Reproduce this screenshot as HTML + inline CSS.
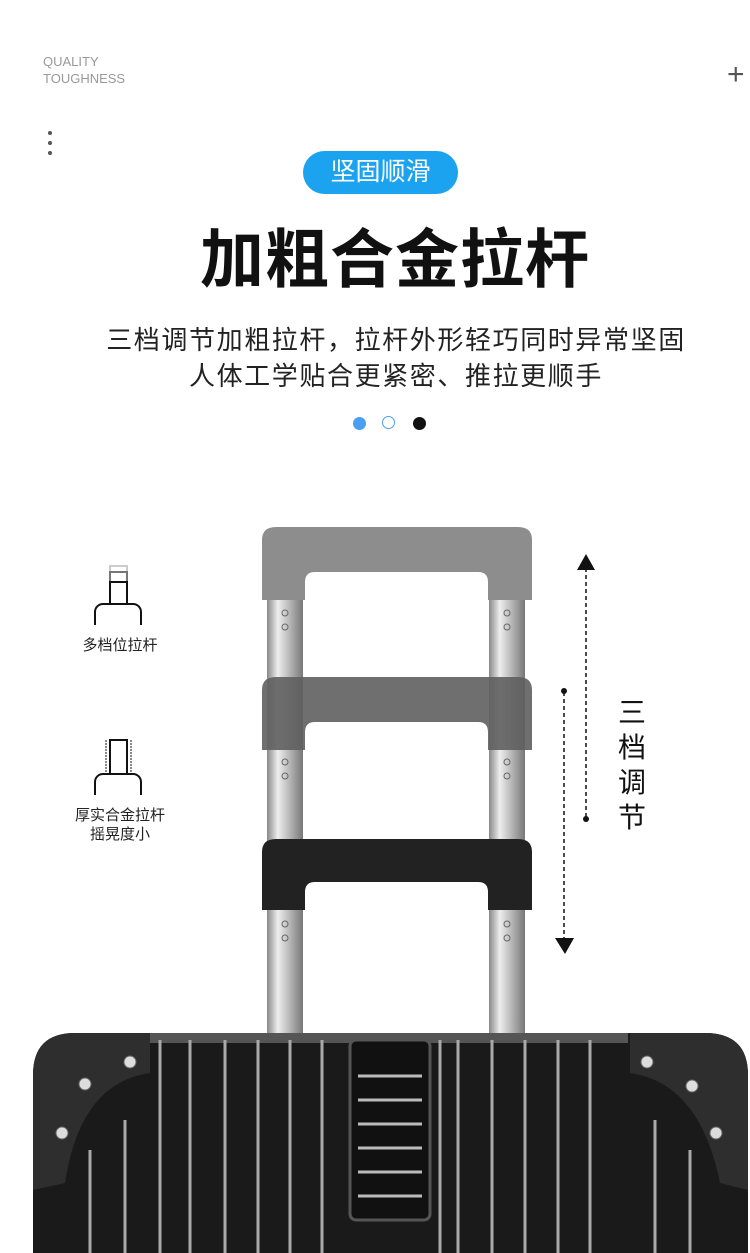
<!DOCTYPE html>
<html><head><meta charset="utf-8"><style>
body{margin:0;width:750px;height:1253px;overflow:hidden;background:#fff;font-family:"Liberation Sans","Noto Sans CJK SC",sans-serif;position:relative}
.a{position:absolute}
</style></head><body>
<div class="a" style="left:43px;top:53px;font-size:13px;color:#999;line-height:17px">QUALITY<br>TOUGHNESS</div>
<div class="a" style="left:727px;top:60px;font-size:30px;color:#555;line-height:30px;font-weight:300">+</div>
<div class="a" style="left:48px;top:131px;width:4px;height:4px;border-radius:2px;background:#555;box-shadow:0 10px 0 #555,0 20px 0 #555"></div>
<div class="a" style="left:303px;top:151px;width:155px;height:43px;border-radius:22px;background:#1ca3ef;color:#fff;font-size:25px;text-align:center;line-height:43px">坚固顺滑</div>
<div class="a" style="left:0;top:220px;width:790px;text-align:center;font-size:64px;font-weight:bold;letter-spacing:1px;color:#111;line-height:80px">加粗合金拉杆</div>
<div class="a" style="left:0;top:322px;width:792px;text-align:center;font-size:26px;letter-spacing:1.6px;color:#222;line-height:36px">三档调节加粗拉杆，拉杆外形轻巧同时异常坚固<br>人体工学贴合更紧密、推拉更顺手</div>
<div class="a" style="left:353px;top:417px;width:13px;height:13px;border-radius:50%;background:#4a9ff0"></div>
<div class="a" style="left:382px;top:416px;width:11px;height:11px;border-radius:50%;border:1.5px solid #4a9ff0"></div>
<div class="a" style="left:413px;top:417px;width:13px;height:13px;border-radius:50%;background:#111"></div>
<div class="a" style="left:50px;top:634px;width:140px;text-align:center;font-size:15px;color:#222">多档位拉杆</div>
<div class="a" style="left:50px;top:806px;width:140px;text-align:center;font-size:15px;color:#222;line-height:19px">厚实合金拉杆<br>摇晃度小</div>
<div class="a" style="left:614px;top:695px;width:36px;font-size:28px;color:#111;line-height:35px;text-align:center">三<br>档<br>调<br>节</div>
<svg class="a" style="left:0;top:0" width="750" height="1253">
<defs>
<linearGradient id="pole" x1="0" x2="1"><stop offset="0" stop-color="#888"/><stop offset=".3" stop-color="#eee"/><stop offset=".6" stop-color="#bbb"/><stop offset="1" stop-color="#777"/></linearGradient>
</defs>
<g fill="none" stroke="#111" stroke-width="2">
<rect x="110" y="566" width="17" height="6" stroke="#ccc"/>
<rect x="110" y="572" width="17" height="10" stroke="#777"/>
<rect x="110" y="582" width="17" height="22"/>
<path d="M95 625V612a8 8 0 0 1 8-8h30a8 8 0 0 1 8 8v13"/>
<rect x="110" y="740" width="17" height="34"/>
<path d="M95 795V782a8 8 0 0 1 8-8h30a8 8 0 0 1 8 8v13"/>
<path d="M106 740v34M131 740v34" stroke-width="1" stroke-dasharray="2 1"/>
</g>
<rect x="267" y="560" width="36" height="475" fill="url(#pole)"/>
<rect x="489" y="560" width="36" height="475" fill="url(#pole)"/>
<g fill="none" stroke="#666" stroke-width="1">
<circle cx="285" cy="613" r="3"/><circle cx="285" cy="627" r="3"/><circle cx="507" cy="613" r="3"/><circle cx="507" cy="627" r="3"/>
<circle cx="285" cy="762" r="3"/><circle cx="285" cy="776" r="3"/><circle cx="507" cy="762" r="3"/><circle cx="507" cy="776" r="3"/>
<circle cx="285" cy="924" r="3"/><circle cx="285" cy="938" r="3"/><circle cx="507" cy="924" r="3"/><circle cx="507" cy="938" r="3"/>
</g>
<path d="M262 600V540q0-13 14-13h242q14 0 14 13v60h-44v-18q0-10-10-10h-163q-10 0-10 10v18z" fill="#8d8d8d"/>
<path d="M262 750V690q0-13 14-13h242q14 0 14 13v60h-44v-18q0-10-10-10h-163q-10 0-10 10v18z" fill="#5f5f5f" opacity=".9"/>
<path d="M262 910V852q0-13 14-13h242q14 0 14 13v58h-44v-18q0-10-10-10h-163q-10 0-10 10v18z" fill="#222"/>
<g stroke="#111" stroke-width="1.5" stroke-dasharray="4 3">
<line x1="586" y1="568" x2="586" y2="818"/><line x1="564" y1="692" x2="564" y2="940"/></g>
<path d="M577 570L586 554L595 570Z" fill="#111"/><circle cx="586" cy="819" r="3" fill="#111"/>
<path d="M555 938L565 954L574 938Z" fill="#111"/><circle cx="564" cy="691" r="3" fill="#111"/>
<path d="M33 1253V1075q0-42 42-42h630q43 0 43 42v178z" fill="#1a1a1a"/>
<path d="M148 1033h480v10h-480z" fill="#555"/>
<g stroke="#aaa" stroke-width="3">
<line x1="160" y1="1040" x2="160" y2="1253"/><line x1="190" y1="1040" x2="190" y2="1253"/><line x1="225" y1="1040" x2="225" y2="1253"/><line x1="258" y1="1040" x2="258" y2="1253"/><line x1="290" y1="1040" x2="290" y2="1253"/><line x1="322" y1="1040" x2="322" y2="1253"/>
<line x1="440" y1="1040" x2="440" y2="1253"/><line x1="458" y1="1040" x2="458" y2="1253"/><line x1="492" y1="1040" x2="492" y2="1253"/><line x1="525" y1="1040" x2="525" y2="1253"/><line x1="558" y1="1040" x2="558" y2="1253"/><line x1="590" y1="1040" x2="590" y2="1253"/>
<line x1="90" y1="1150" x2="90" y2="1253"/><line x1="125" y1="1120" x2="125" y2="1253"/><line x1="655" y1="1120" x2="655" y2="1253"/><line x1="690" y1="1150" x2="690" y2="1253"/>
</g>
<rect x="350" y="1040" width="80" height="180" rx="6" fill="#111" stroke="#555" stroke-width="3"/>
<g stroke="#bbb" stroke-width="3">
<line x1="358" y1="1076" x2="422" y2="1076"/><line x1="358" y1="1100" x2="422" y2="1100"/><line x1="358" y1="1124" x2="422" y2="1124"/><line x1="358" y1="1148" x2="422" y2="1148"/><line x1="358" y1="1172" x2="422" y2="1172"/><line x1="358" y1="1196" x2="422" y2="1196"/></g>
<path d="M33 1190V1075q0-42 42-42h75v40q-70 10-85 110z" fill="#2e2e2e"/>
<path d="M748 1190V1075q0-42-43-42h-75v40q70 10 90 110z" fill="#2e2e2e"/>
<g fill="#ddd" stroke="#666"><circle cx="85" cy="1084" r="6"/><circle cx="62" cy="1133" r="6"/><circle cx="130" cy="1062" r="6"/><circle cx="647" cy="1062" r="6"/><circle cx="692" cy="1086" r="6"/><circle cx="716" cy="1133" r="6"/></g>
</svg>
</body></html>
